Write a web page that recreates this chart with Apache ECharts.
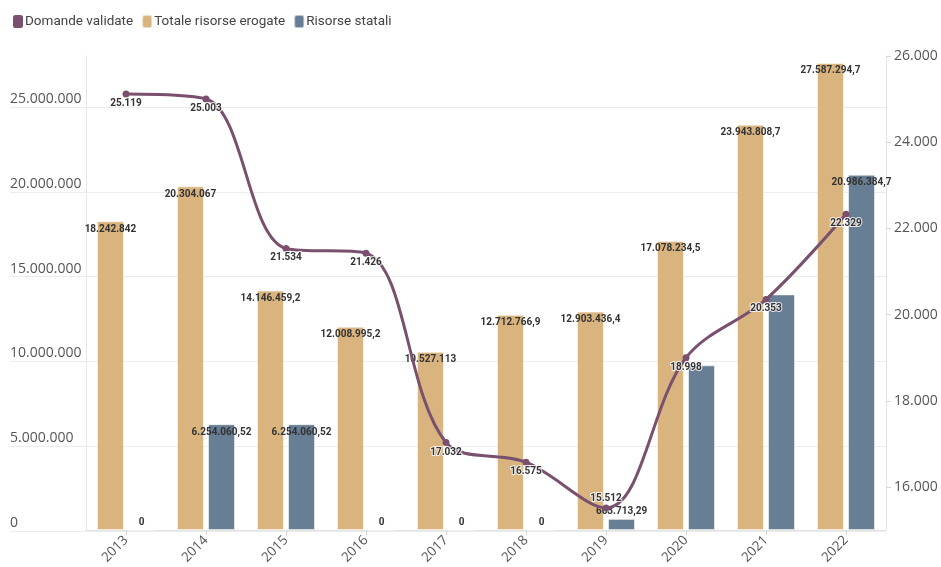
<!DOCTYPE html>
<html>
<head>
<meta charset="utf-8">
<script src="https://cdn.jsdelivr.net/npm/echarts@6/dist/echarts.min.js"></script>
<style>
  html, body { margin: 0; padding: 0; background: #fff; }
  #chart { width: 941px; height: 567px; }
</style>
</head>
<body>
<div id="chart"></div>
<script>
// Anni
const years = ['2013', '2014', '2015', '2016', '2017', '2018', '2019', '2020', '2021', '2022'];
// Domande validate (asse destro)
const domandeValidate = [25119, 25003, 21534, 21426, 17032, 16575, 15512, 18998, 20353, 22329];
// Totale risorse erogate (asse sinistro)
const totaleRisorse = [18242842, 20304067, 14146459.2, 12008995.2, 10527113, 12712766.9, 12903436.4, 17078234.5, 23943808.7, 27587294.7];
// Risorse statali (asse sinistro)
const risorseStatali = [0, 6254060.52, 6254060.52, 0, 0, 0, 663713.29, 9730000, 13920000, 20986384.7];
// Etichette degli assi
const leftTicks = [0, 5000000, 10000000, 15000000, 20000000, 25000000];
const rightTicks = [16000, 18000, 20000, 22000, 24000, 26000];

// Formato italiano: punto per le migliaia, virgola per i decimali
function fmt(v) {
  const parts = String(v).split('.');
  const intPart = parts[0].replace(/\B(?=(\d{3})+(?!\d))/g, '.');
  return parts.length > 1 ? intPart + ',' + parts[1] : intPart;
}

const FONT = 'Roboto';
const AXIS_FONT = 'Open Sans';
const GOLD = '#D9B47F';
const BLUE = '#687E94';
const PURPLE = '#7A506F';

// Etichette delle barre: dentro la barra se c'è spazio, altrimenti sopra
function barLabelFor(v) {
  if (v < 2000000) return { position: 'top', distance: 2 };
  return { position: 'insideTop', distance: 3 };
}
function barData(values, hidden) {
  return values.map((v, i) => ({
    value: v,
    label: Object.assign(barLabelFor(v), hidden && hidden.includes(i) ? { show: false } : {})
  }));
}

const barLabel = {
  show: true,
  formatter: p => fmt(p.value),
  fontFamily: FONT,
  fontSize: 10,
  fontWeight: 'bold',
  color: '#333'
};

const chart = echarts.init(document.getElementById('chart'), null, { renderer: 'canvas' });

chart.setOption({
  animation: false,
  backgroundColor: '#fff',
  legend: {
    data: ['Domande validate', 'Totale risorse erogate', 'Risorse statali'],
    left: 8,
    top: 9,
    icon: 'roundRect',
    itemWidth: 10,
    itemHeight: 13,
    itemGap: 8,
    textStyle: { fontFamily: FONT, fontSize: 13.5, color: '#444', padding: [0, 0, 0, -3] }
  },
  grid: [
    { left: 86, right: 55, top: 56, bottom: 36 },
    { left: 10, right: 55, top: 107, bottom: 36 }
  ],
  xAxis: [
    {
      type: 'category',
      gridIndex: 0,
      data: years,
      axisLine: { show: true, lineStyle: { color: '#e2e2e2' } },
      axisTick: { show: true, alignWithLabel: true, length: 5, lineStyle: { color: '#d6d6d6' } },
      axisLabel: { rotate: 45, margin: 8, fontFamily: AXIS_FONT, fontSize: 13.5, color: '#555' }
    },
    { type: 'value', gridIndex: 1, min: 0, max: 1, show: false }
  ],
  yAxis: [
    {
      type: 'value',
      gridIndex: 0,
      min: 0,
      max: 28000000,
      axisLine: { show: true, lineStyle: { color: '#e8e8e8' } },
      axisTick: { show: false },
      axisLabel: { show: false },
      splitLine: { show: false }
    },
    {
      type: 'value',
      gridIndex: 0,
      position: 'right',
      min: 15000,
      max: 26000,
      axisLine: { show: true, lineStyle: { color: '#e2e2e2' } },
      axisTick: { show: true, length: 5, customValues: rightTicks, lineStyle: { color: '#d6d6d6' } },
      axisLabel: {
        customValues: rightTicks,
        formatter: v => fmt(v),
        margin: 8,
        fontFamily: AXIS_FONT,
        fontSize: 14,
        color: '#555'
      },
      splitLine: { show: false }
    },
    {
      type: 'value',
      gridIndex: 1,
      min: 0,
      max: 25000000,
      interval: 5000000,
      axisLine: { show: false },
      axisTick: { show: false },
      axisLabel: {
        inside: true,
        margin: 0,
        verticalAlign: 'bottom',
        formatter: v => fmt(v),
        fontFamily: AXIS_FONT,
        fontSize: 14,
        color: '#555',
        padding: [0, 0, 1, 0]
      },
      splitLine: { show: true, lineStyle: { color: '#ececec', width: 1 } }
    }
  ],
  series: [
    {
      name: 'Totale risorse erogate',
      type: 'bar',
      xAxisIndex: 0,
      yAxisIndex: 0,
      barWidth: 27,
      barGap: '15%',
      itemStyle: { color: GOLD, borderColor: 'rgba(255,255,255,0.55)', borderWidth: 1 },
      label: barLabel,
      data: barData(totaleRisorse)
    },
    {
      name: 'Risorse statali',
      type: 'bar',
      xAxisIndex: 0,
      yAxisIndex: 0,
      barWidth: 27,
      barGap: '15%',
      itemStyle: { color: BLUE, borderColor: 'rgba(255,255,255,0.55)', borderWidth: 1 },
      label: barLabel,
      data: barData(risorseStatali, [7, 8])
    },
    {
      name: 'Domande validate',
      type: 'line',
      xAxisIndex: 0,
      yAxisIndex: 1,
      z: 5,
      smooth: 0.35,
      symbol: 'circle',
      symbolSize: 7,
      lineStyle: { color: PURPLE, width: 3 },
      itemStyle: { color: PURPLE },
      label: {
        show: true,
        position: 'bottom',
        distance: 1,
        formatter: p => fmt(p.value),
        fontFamily: FONT,
        fontSize: 10,
        fontWeight: 'bold',
        color: '#333',
        textBorderColor: 'rgba(255,255,255,0.8)',
        textBorderWidth: 2
      },
      data: domandeValidate.map((v, i) => ({
        value: v,
        label: i === 6 ? { position: 'top', distance: 1 } : {}
      }))
    }
  ]
});
</script>
</body>
</html>
